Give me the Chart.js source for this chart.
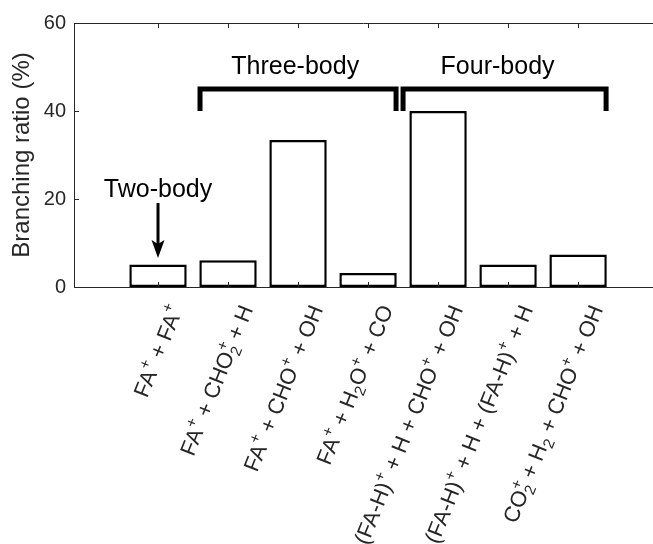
<!DOCTYPE html>
<html>
<head>
    <title>Branching ratio</title>
    <script src="https://cdn.jsdelivr.net/npm/chart.js"></script>
    <style>
        body { margin: 0; overflow: hidden; background: #fff; }
    </style>
</head>
<body>
    <canvas id="myChart" width="653" height="544"></canvas>
    <script>
        // channel labels (^{..} = superscript, _{..} = subscript)
        var channels = [
            'FA^{+} + FA^{+}',
            'FA^{+} + CHO_{2}^{+} + H',
            'FA^{+} + CHO^{+} + OH',
            'FA^{+} + H_{2}O^{+} + CO',
            '(FA-H)^{+} + H + CHO^{+} + OH',
            '(FA-H)^{+} + H + (FA-H)^{+} + H',
            'CO_{2}^{+} + H_{2} + CHO^{+} + OH'
        ];
        var positions = [1, 2, 3, 4, 5, 6, 7];
        var branchingRatio = [5.1, 6.1, 33.4, 3.2, 40.0, 5.1, 7.4];
        var yTicks = [0, 20, 40, 60];

        // group brackets
        var groupNames = ['Three-body', 'Four-body'];
        var groupStart = [1.6, 4.5];
        var groupEnd = [4.4, 7.4];
        var groupTextX = [2.96, 5.85];
        var groupLow = 40, groupHigh = 45, groupTextY = 48.3;

        // two-body arrow
        var twoBodyX = 1, twoBodyTextY = 20.5, arrowFrom = 19.1, arrowTo = 6.6;

        var FONT = "'Liberation Sans', Arial, Helvetica, sans-serif";
        var AXIS = '#262626';
        Chart.defaults.font.family = FONT;

        function parseRich(s) {
            var out = [], re = /\^\{([^}]*)\}|_\{([^}]*)\}|([^_^]+)/g, m;
            while ((m = re.exec(s)) !== null) {
                if (m[1] !== undefined) out.push({t: m[1], k: 'sup'});
                else if (m[2] !== undefined) out.push({t: m[2], k: 'sub'});
                else out.push({t: m[3], k: 'n'});
            }
            return out;
        }

        function drawRich(ctx, s, size) {
            var items = parseRich(s), small = size * 0.7;
            var x = 0, lastX = 0, lastW = 0, lastK = null;
            items.forEach(function (it) {
                ctx.font = (it.k === 'n' ? size : small) + 'px ' + FONT;
                var w = ctx.measureText(it.t).width;
                if (it.k === 'n') { it.x = x; x += w; lastK = 'n'; }
                else if ((lastK === 'sup' && it.k === 'sub') || (lastK === 'sub' && it.k === 'sup')) {
                    it.x = lastX; x = lastX + Math.max(lastW, w); lastK = null;
                } else { it.x = x; lastX = x; lastW = w; x += w; lastK = it.k; }
            });
            var total = x, base = size * 0.36;
            items.forEach(function (it) {
                ctx.font = (it.k === 'n' ? size : small) + 'px ' + FONT;
                var dy = it.k === 'sup' ? -size * 0.45 : (it.k === 'sub' ? size * 0.22 : 0);
                ctx.fillText(it.t, it.x - total, base + dy);
            });
        }

        var extras = {
            id: 'extras',
            afterDraw: function (chart) {
                var ctx = chart.ctx, xs = chart.scales.x, ys = chart.scales.y, a = chart.chartArea;
                ctx.save();
                // top box line and inward ticks
                ctx.strokeStyle = AXIS;
                ctx.lineWidth = 1;
                ctx.beginPath();
                ctx.moveTo(a.left, Math.round(a.top) + 0.5);
                ctx.lineTo(a.right, Math.round(a.top) + 0.5);
                positions.forEach(function (p) {
                    var px = Math.round(xs.getPixelForValue(p)) + 0.5;
                    ctx.moveTo(px, a.top); ctx.lineTo(px, a.top + 5);
                    ctx.moveTo(px, a.bottom); ctx.lineTo(px, a.bottom - 5);
                });
                yTicks.forEach(function (v) {
                    var py = Math.round(ys.getPixelForValue(v)) + 0.5;
                    ctx.moveTo(a.left, py); ctx.lineTo(a.left + 5, py);
                });
                ctx.stroke();

                // rotated category labels
                ctx.fillStyle = AXIS;
                ctx.textBaseline = 'alphabetic';
                ctx.textAlign = 'left';
                channels.forEach(function (lab, i) {
                    ctx.save();
                    ctx.translate(xs.getPixelForValue(positions[i]) + 18, a.bottom + 19);
                    ctx.rotate(-68 * Math.PI / 180);
                    drawRich(ctx, lab, 22);
                    ctx.restore();
                });

                // brackets
                ctx.strokeStyle = '#000';
                ctx.lineWidth = 5;
                ctx.lineJoin = 'miter';
                ctx.lineCap = 'butt';
                groupNames.forEach(function (g, i) {
                    var x1 = xs.getPixelForValue(groupStart[i]), x2 = xs.getPixelForValue(groupEnd[i]);
                    var yl = ys.getPixelForValue(groupLow), yh = ys.getPixelForValue(groupHigh);
                    ctx.beginPath();
                    ctx.moveTo(x1, yl); ctx.lineTo(x1, yh); ctx.lineTo(x2, yh); ctx.lineTo(x2, yl);
                    ctx.stroke();
                });
                ctx.fillStyle = '#000';
                ctx.font = '25px ' + FONT;
                ctx.textAlign = 'center';
                groupNames.forEach(function (g, i) {
                    ctx.fillText(g, xs.getPixelForValue(groupTextX[i]), ys.getPixelForValue(groupTextY));
                });

                // two-body arrow
                var ax = xs.getPixelForValue(twoBodyX);
                ctx.fillText('Two-body', ax, ys.getPixelForValue(twoBodyTextY));
                var y0 = ys.getPixelForValue(arrowFrom), y1 = ys.getPixelForValue(arrowTo);
                ctx.lineWidth = 3;
                ctx.beginPath();
                ctx.moveTo(ax, y0); ctx.lineTo(ax, y1 - 12);
                ctx.stroke();
                ctx.beginPath();
                ctx.moveTo(ax, y1);
                ctx.lineTo(ax - 6.5, y1 - 18);
                ctx.lineTo(ax, y1 - 14);
                ctx.lineTo(ax + 6.5, y1 - 18);
                ctx.closePath();
                ctx.fill();
                ctx.restore();
            }
        };

        var ctx = document.getElementById('myChart').getContext('2d');
        var myChart = new Chart(ctx, {
            type: 'bar',
            data: {
                datasets: [{
                    data: positions.map(function (p, i) { return {x: p, y: branchingRatio[i]}; }),
                    backgroundColor: '#ffffff',
                    borderColor: '#000000',
                    borderWidth: 2.5,
                    borderSkipped: false,
                    barPercentage: 0.82,
                    categoryPercentage: 1.0
                }]
            },
            options: {
                responsive: false,
                animation: false,
                layout: { padding: { left: 8, top: 23, right: 0, bottom: 0 } },
                plugins: { legend: { display: false }, tooltip: { enabled: false } },
                scales: {
                    x: {
                        type: 'linear',
                        offset: false,
                        min: -0.2,
                        max: 8.07,
                        grid: { display: false },
                        border: { display: true, color: AXIS, width: 1 },
                        ticks: { display: false },
                        afterFit: function (s) { s.height = 257; }
                    },
                    y: {
                        min: 0,
                        max: 60,
                        afterBuildTicks: function (s) { s.ticks = yTicks.map(function (v) { return {value: v}; }); },
                        grid: { display: false },
                        border: { display: true, color: AXIS, width: 1 },
                        ticks: { color: AXIS, font: { size: 20 }, padding: 0 },
                        title: { display: true, text: 'Branching ratio (%)', color: AXIS, font: { size: 24 }, padding: 0 },
                        afterFit: function (s) { s.width = 66; }
                    }
                }
            },
            plugins: [extras]
        });
    </script>
</body>
</html>
